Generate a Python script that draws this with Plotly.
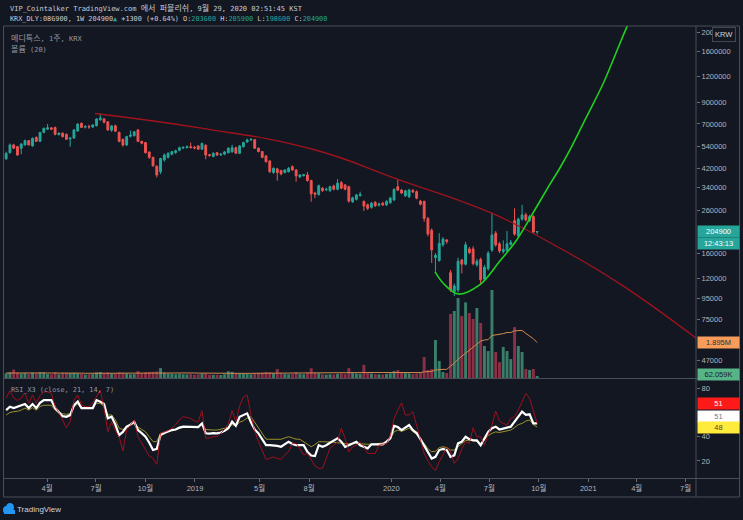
import math
import pandas as pd
import plotly.graph_objects as go

BG = "#131722"
UP = "#26a69a"
DOWN = "#ef5350"
TXT = "#b2b5be"
MONO = "DejaVu Sans Mono, Noto Sans CJK KR, monospace"
SANS = "Liberation Sans, Noto Sans CJK KR, sans-serif"

# ---------------- data (prices in thousand KRW) ----------------
UNIT = 1000
dates = pd.date_range("2018-01-15", periods=142, freq="7D")

ohlc_k = [
    (470, 510, 465, 500), (504, 560, 500, 551), (551, 558, 525, 531), (540, 545, 486, 491), (530, 562, 495, 557),
    (551, 585, 548, 579), (579, 583, 548, 551), (545, 600, 540, 594), (601, 606, 570, 574), (574, 640, 570, 636),
    (636, 672, 630, 666), (660, 700, 655, 670), (670, 675, 652, 660), (672, 680, 615, 622), (620, 636, 614, 630),
    (630, 636, 600, 606), (622, 628, 583, 588), (590, 600, 540, 596), (596, 660, 590, 654), (647, 706, 640, 699),
    (705, 712, 668, 673), (675, 690, 665, 680), (680, 695, 662, 676), (676, 700, 670, 692), (687, 748, 680, 741),
    (735, 790, 725, 750), (741, 750, 705, 715), (718, 722, 648, 654), (652, 690, 640, 685), (686, 695, 640, 645),
    (636, 642, 568, 574), (588, 592, 540, 551), (551, 612, 545, 606), (608, 650, 600, 617), (612, 646, 608, 640),
    (654, 660, 570, 574), (574, 578, 555, 562), (566, 570, 500, 504), (508, 512, 470, 478), (478, 482, 430, 434),
    (432, 436, 380, 391), (406, 476, 395, 472), (464, 500, 455, 491), (478, 508, 472, 500), (495, 514, 490, 510),
    (505, 522, 498, 515), (518, 540, 512, 534), (532, 542, 525, 536), (535, 548, 528, 540), (540, 566, 528, 535),
    (537, 545, 524, 532), (545, 550, 520, 525), (525, 566, 520, 560), (548, 556, 468, 491), (493, 498, 482, 488),
    (483, 506, 478, 501), (504, 508, 486, 491), (492, 502, 486, 496), (496, 514, 490, 509), (504, 536, 500, 531),
    (509, 552, 505, 534), (534, 540, 496, 501), (501, 550, 496, 545), (540, 572, 535, 566), (570, 592, 565, 583),
    (583, 596, 578, 587), (585, 590, 526, 531), (531, 534, 506, 511), (511, 514, 474, 478), (486, 490, 450, 455),
    (459, 462, 400, 406), (402, 426, 396, 422), (419, 424, 366, 402), (411, 415, 390, 395), (402, 418, 398, 414),
    (406, 428, 402, 422), (430, 436, 410, 414), (414, 418, 362, 387), (382, 395, 378, 391), (388, 396, 384, 392),
    (391, 405, 362, 367), (367, 370, 288, 315), (318, 322, 300, 314), (313, 350, 308, 346), (336, 340, 322, 327),
    (330, 338, 325, 332), (327, 346, 322, 342), (345, 350, 328, 332), (332, 373, 328, 356), (358, 365, 332, 336),
    (349, 352, 328, 332), (342, 346, 285, 290), (288, 305, 284, 301), (296, 315, 292, 311), (309, 323, 305, 313),
    (289, 292, 259, 274), (278, 282, 262, 267), (270, 287, 266, 283), (286, 290, 271, 275), (277, 285, 272, 280),
    (283, 288, 274, 278), (278, 293, 274, 289), (285, 305, 281, 300), (294, 336, 290, 331), (342, 373, 325, 329),
    (329, 333, 314, 318), (308, 330, 304, 326), (305, 334, 300, 329), (327, 333, 318, 322), (323, 328, 296, 300),
    (290, 294, 276, 280), (289, 292, 229, 238), (238, 242, 194, 199), (208, 212, 143, 166), (152, 160, 130, 156),
    (147, 201, 145, 179), (176, 192, 172, 188), (186, 188, 178, 183), (128, 132, 103, 105), (103, 113, 98, 110),
    (105, 152, 102, 146), (148, 150, 127, 141), (141, 182, 139, 176), (168, 172, 158, 161), (168, 173, 139, 142),
    (140, 150, 137, 146), (149, 152, 111, 118), (119, 140, 116, 136), (134, 164, 131, 160), (166, 254, 162, 197),
    (201, 206, 172, 176), (178, 182, 160, 164), (163, 185, 159, 167), (165, 206, 161, 178), (177, 186, 174, 181),
    (232, 267, 195, 199), (195, 240, 191, 236), (236, 278, 232, 248), (248, 254, 230, 234), (232, 248, 228, 243),
    (243, 247, 200, 203.6), (203.6, 205.9, 198.6, 204.9),
]
open_k = [r[0] for r in ohlc_k]
high_k = [r[1] for r in ohlc_k]
low_k = [r[2] for r in ohlc_k]
close_k = [r[3] for r in ohlc_k]

volume_k = [
    250, 300, 450, 280, 230, 260, 220, 280, 240, 300,
    290, 220, 200, 300, 200, 260, 270, 260, 280, 250,
    220, 180, 200, 210, 300, 320, 260, 300, 230, 240,
    300, 280, 250, 200, 210, 370, 260, 300, 320, 330,
    350, 530, 280, 240, 230, 200, 220, 200, 190, 210,
    180, 200, 230, 250, 180, 170, 180, 160, 200, 360,
    330, 260, 230, 250, 230, 200, 250, 260, 280, 320,
    300, 250, 480, 260, 220, 200, 210, 300, 220, 200,
    280, 520, 280, 250, 200, 180, 200, 190, 220, 230,
    210, 530, 260, 240, 230, 700, 300, 240, 210, 200,
    190, 220, 250, 370, 430, 280, 260, 250, 220, 240, 300,
    1120, 430, 480, 2030, 910, 320, 270, 3420, 3580, 4270,
    3310, 4040, 3470, 3150, 3740, 2940, 1710, 1440, 4700, 1390,
    850, 1660, 1440, 1010, 2720, 1710, 1390, 480, 430, 480,
    62.059,
]

vol_ma_k = [
    265, 268, 275, 275, 272, 270, 268, 270, 268, 272,
    272, 270, 265, 268, 262, 262, 262, 260, 262, 262,
    258, 252, 248, 248, 250, 254, 255, 258, 256, 255,
    258, 260, 262, 258, 256, 262, 262, 265, 268, 272,
    278, 290, 290, 290, 288, 286, 285, 282, 278, 276,
    270, 262, 258, 255, 250, 245, 240, 236, 235, 240,
    243, 245, 246, 248, 250, 250, 250, 252, 255, 258,
    260, 262, 270, 272, 272, 270, 268, 270, 268, 266,
    268, 280, 282, 282, 280, 276, 272, 268, 266, 262,
    258, 270, 270, 268, 268, 290, 292, 292, 290, 288,
    282, 280, 282, 290, 300, 304, 306, 300, 298, 300, 290,
    330, 340, 350, 430, 460, 460, 460, 620, 800, 1000,
    1160, 1350, 1520, 1660, 1840, 1970, 2030, 2050, 2270, 2290,
    2310, 2370, 2430, 2430, 2520, 2520, 2540, 2380, 2240, 2100,
    1895,
]

rsi_fast = [
    72, 78, 72, 70, 72, 76, 67.6, 74.5, 67.6, 74,
    77.2, 77, 76, 64.8, 60, 53, 47.4, 52.4, 70, 74.5,
    66.2, 65, 64.8, 68, 73.1, 78.6, 63.7, 44.1, 52.4, 45,
    40, 28.2, 45.5, 50, 53.8, 40, 35, 29.6, 24, 22.1,
    17.2, 42.8, 44, 45, 47, 50, 54, 56.5, 56, 55.2,
    53, 52.4, 61.5, 38.7, 39, 40, 40, 42.8, 46, 51,
    61.5, 52.4, 65.5, 73, 74.5, 58, 45, 35.9, 28, 21.3,
    22, 23.4, 22, 21.3, 25, 27.6, 34.5, 34.5, 30, 24.9,
    26.2, 20.7, 16, 13.9, 13.9, 22, 30.4, 33, 35.9, 47,
    38.7, 27.6, 31.7, 33, 35.9, 31.7, 26.2, 26.2, 26.2, 33,
    34, 34.5, 40, 55, 62, 68, 58, 58, 60.7, 49.7,
    38, 26.3, 20, 15.2, 12, 19.3, 25, 31.7, 27.6, 18,
    22, 30, 35.9, 34.5, 47.4, 40, 40, 33, 42, 49.7,
    61.2, 53, 51, 49.7, 55.2, 56.5, 62, 69, 75.9, 71.7,
    60.7, 51,
]
rsi_mid = [
    62, 64.8, 63.7, 65, 66, 67, 63.7, 67, 63.7, 68,
    70.3, 70.3, 70.3, 63.7, 60, 57, 56.5, 57.9, 66, 69,
    63.7, 63.7, 63.7, 63.7, 70.3, 69, 67, 55.2, 56.5, 50,
    41.4, 44, 48.3, 50, 52.4, 45.5, 43, 40, 35, 29,
    30, 41.4, 43, 44.5, 45.5, 46, 47.5, 48.3, 48.3, 48.3,
    48, 48, 51, 42.8, 42.5, 43, 42.8, 43.5, 45, 47,
    52.4, 49, 56.5, 58, 59.3, 52, 46, 42.8, 38, 33,
    33, 33, 32.5, 31.7, 33.5, 35.9, 34, 33, 33, 33,
    27.6, 24.5, 24, 33, 31.7, 33, 35, 37, 38.7, 35.9,
    31.7, 33, 34.5, 35.9, 33, 31.7, 30.4, 33.7, 33.7, 33.7,
    33.7, 36, 38.7, 49, 48, 45.5, 47.5, 49.7, 45.5, 43,
    38, 33, 27, 22, 23.4, 29, 30, 29, 23.4, 24.6,
    34.5, 35.9, 40, 38, 37, 37, 33, 38.7, 44, 47,
    48.3, 46, 47, 47.5, 48.3, 52.4, 56.5, 60.7, 58, 58.5,
    51, 51,
]
rsi_slow = [
    58, 60, 60.7, 61, 62, 63.7, 62, 64, 62, 65,
    66, 66, 66, 62, 60, 59, 58.5, 59, 65, 67,
    63.7, 63.5, 63.5, 64, 67.6, 67.6, 65, 58, 58, 54,
    47, 46, 48, 50, 51, 48, 46, 44.1, 40, 36,
    35.9, 42.8, 43.5, 44.5, 45.5, 46, 47, 47.5, 48, 48.5,
    48.5, 48.5, 51, 46, 45.5, 45.5, 45.5, 46, 47, 48,
    50, 49, 52, 53.2, 55.5, 56.5, 52, 47, 42, 38,
    37.9, 37.9, 37.9, 37.9, 39, 40, 39, 38, 37.9, 36,
    34, 31.7, 33.5, 35.9, 35.9, 35.9, 35.9, 35.5, 35, 34.5,
    34.5, 34, 34.5, 34.5, 34.5, 34, 33.7, 33.7, 34, 34.5,
    35, 35, 38, 44, 45.5, 44.5, 45.5, 47, 44.1, 42,
    38, 34.5, 30, 27.6, 28, 31, 31.7, 31, 29, 29,
    31.7, 34, 37, 37, 37, 36, 34.5, 38, 41, 42.8,
    44, 43.5, 44, 45, 45.5, 47.5, 50, 51, 53, 53.8,
    50, 48,
]

# drawings (date, price in thousand KRW)
arc_dates = ["2018-06-29", "2019-01-10", "2019-08-06", "2020-01-17", "2020-07-05 12:00",
             "2020-11-09 17:00", "2021-03-01", "2021-07-20"]
arc_prices_k = [789, 669, 526, 369, 252.5, 169.3, 112.6, 60.7]

cup_dates = ["2020-03-22", "2020-04-06 12:00", "2020-05-04", "2020-06-13", "2020-07-20",
             "2020-08-21", "2020-09-20", "2020-10-21", "2020-11-09", "2020-11-28",
             "2020-12-29", "2021-01-29", "2021-03-01", "2021-03-14", "2021-03-30"]
cup_prices_k = [129.6, 113.5, 100.3, 111.3, 145.3, 186.1, 252.5, 348.8, 422.1, 520.3,
                761.1, 1115, 1761, 2129, 2636]

price_ticks = [2000000, 1600000, 1200000, 900000, 700000, 540000, 420000, 340000,
               260000, 160000, 120000, 95000, 75000, 47000]
rsi_ticks = [20, 40, 80]
time_tickvals = ["2018-04-01", "2018-07-01", "2018-10-01", "2019-01-01", "2019-05-01", "2019-08-01",
                 "2020-01-01", "2020-04-01", "2020-07-01", "2020-10-01", "2021-01-01", "2021-04-01",
                 "2021-07-01"]
time_ticktext = ["4월", "7월", "10월", "2019", "5월", "8월", "2020", "4월", "7월", "10월", "2021", "4월", "7월"]

# ---------------- layout helpers (pixel -> paper) ----------------
W, H = 743, 520
L, R, T, B = 4, 696, 26, 478


def px(x):
    return (x - L) / (R - L)


def py(y):
    return (B - y) / (B - T)


main_dom = [py(378), 1.0]
rsi_dom = [0.0, py(379)]

opens = [v * UNIT for v in open_k]
highs = [v * UNIT for v in high_k]
lows = [v * UNIT for v in low_k]
closes = [v * UNIT for v in close_k]
volumes = [v * UNIT for v in volume_k]
vol_ma = [v * UNIT for v in vol_ma_k]

vol_colors = ["#3a7d69" if c >= o else "#8a2f45" for o, c in zip(opens, closes)]

fig = go.Figure()

# volume (base axis y)
fig.add_trace(go.Bar(x=dates, y=volumes, marker=dict(color=vol_colors, line=dict(width=0)),
                     width=7 * 86400000 * 0.78, yaxis="y", xaxis="x", hoverinfo="skip"))
fig.add_trace(go.Scatter(x=dates, y=vol_ma, mode="lines", line=dict(color="#d08a50", width=1),
                         yaxis="y", xaxis="x", hoverinfo="skip"))

# price (overlay axis y2)
fig.add_trace(go.Candlestick(
    x=dates, open=opens, high=highs, low=lows, close=closes,
    increasing=dict(line=dict(color=UP, width=1), fillcolor=UP),
    decreasing=dict(line=dict(color=DOWN, width=1), fillcolor=DOWN),
    whiskerwidth=0, yaxis="y2", xaxis="x", hoverinfo="skip"))

fig.add_trace(go.Scatter(x=arc_dates, y=[v * UNIT for v in arc_prices_k], mode="lines",
                         line=dict(color="#a0131d", width=1.3, shape="spline", smoothing=1.3),
                         yaxis="y2", xaxis="x", hoverinfo="skip"))
fig.add_trace(go.Scatter(x=cup_dates, y=[v * UNIT for v in cup_prices_k], mode="lines",
                         line=dict(color="#1fd01f", width=1.6, shape="spline"), yaxis="y2", xaxis="x",
                         hoverinfo="skip"))

# RSI pane
fig.add_trace(go.Scatter(x=dates, y=rsi_slow, mode="lines", line=dict(color="#9c9428", width=1),
                         yaxis="y3", xaxis="x", hoverinfo="skip"))
fig.add_trace(go.Scatter(x=dates, y=rsi_mid, mode="lines", line=dict(color="#ffffff", width=2.2),
                         yaxis="y3", xaxis="x", hoverinfo="skip"))
fig.add_trace(go.Scatter(x=dates, y=rsi_fast, mode="lines", line=dict(color="#c0101c", width=1),
                         opacity=0.8, yaxis="y3", xaxis="x", hoverinfo="skip"))

lg = math.log10
tickfont = dict(family=SANS, size=7.5, color=TXT)
P0 = 2887000  # price at pixel row 0 of the log scale
PX_PER_DECADE = 201.5

fig.update_layout(
    width=W, height=H,
    margin=dict(l=L, r=W - R, t=T, b=H - B, pad=0),
    paper_bgcolor=BG, plot_bgcolor=BG,
    showlegend=False, dragmode=False,
    xaxis=dict(type="date", range=["2018-01-11", "2021-07-20 07:00"], anchor="y3", domain=[0, 1],
               showgrid=False, zeroline=False, showline=False,
               tickmode="array", tickvals=time_tickvals, ticktext=time_ticktext,
               ticks="outside", ticklen=3, tickcolor="#6a6d78", tickfont=tickfont,
               rangeslider=dict(visible=False), fixedrange=True),
    yaxis=dict(domain=main_dom, range=[0, 18.8e6], visible=False, fixedrange=True),
    yaxis2=dict(type="log", overlaying="y", side="right", anchor="x",
                range=[lg(P0) - 378 / PX_PER_DECADE, lg(P0) - 26 / PX_PER_DECADE],
                showgrid=False, zeroline=False, showline=False,
                tickmode="array", tickvals=price_ticks, ticktext=[str(v) for v in price_ticks],
                ticks="outside", ticklen=3, tickcolor="#6a6d78", tickfont=tickfont, fixedrange=True),
    yaxis3=dict(domain=rsi_dom, range=[5.9, 87.7], side="right", anchor="x",
                showgrid=False, zeroline=False, showline=False,
                tickmode="array", tickvals=rsi_ticks, ticktext=[str(v) for v in rsi_ticks],
                ticks="outside", ticklen=3, tickcolor="#6a6d78", tickfont=tickfont, fixedrange=True),
)

# frame lines
FRAME = "#4a4e59"
shapes = []
for (x0, y0, x1, y1) in [
    (3.5, 26, 739.5, 26), (3.5, 26, 3.5, 497), (739.5, 26, 739.5, 497), (696, 26, 696, 497),
    (3.5, 378.5, 739.5, 378.5), (3.5, 478.5, 739.5, 478.5), (3.5, 497, 739.5, 497)]:
    shapes.append(dict(type="line", xref="paper", yref="paper", x0=px(x0), y0=py(y0), x1=px(x1), y1=py(y1),
                       line=dict(color=FRAME, width=1), layer="above"))
# TradingView logo icon
shapes.append(dict(type="circle", xref="paper", yref="paper", x0=px(3), y0=py(514), x1=px(10), y1=py(506),
                   fillcolor="#2196f3", line=dict(width=0)))
shapes.append(dict(type="circle", xref="paper", yref="paper", x0=px(6), y0=py(512), x1=px(14), y1=py(503),
                   fillcolor="#2196f3", line=dict(width=0)))
shapes.append(dict(type="rect", xref="paper", yref="paper", x0=px(4), y0=py(514), x1=px(15), y1=py(510),
                   fillcolor="#2196f3", line=dict(width=0)))
fig.update_layout(shapes=shapes)

ann = []


def widen_hangul(s, size=8.0):
    out = []
    for ch in s:
        if "\uac00" <= ch <= "\ud7a3":
            out.append(f"<span style='font-size:{size}px'>{ch}</span>")
        else:
            out.append(ch)
    return "".join(out)


def text(x, y, s, size=7.0, color=TXT, family=MONO):
    ann.append(dict(xref="paper", yref="paper", x=px(x), y=py(y), text=s, showarrow=False,
                    xanchor="left", yanchor="middle", font=dict(family=family, size=size, color=color)))


text(8, 7.5, widen_hangul("VIP_Cointalker TradingView.com 에서 퍼블리쉬, 9월 29, 2020 02:51:45 KST"),
     color="#c8cad2")
last_open, last_high, last_low, last_close = opens[-1], highs[-1], lows[-1], closes[-1]
chg = last_close - closes[-2]


def teal(s):
    return f"<span style='color:{UP}'>{s}</span>"


line2 = (f"KRX_DLY:086900, 1W {int(round(last_close))}{teal('▲')} +{int(round(chg))} "
         f"(+{chg / closes[-2] * 100:.2f}%) "
         f"O:{teal(int(round(last_open)))} H:{teal(int(round(last_high)))} "
         f"L:{teal(int(round(last_low)))} C:{teal(int(round(last_close)))}")
text(8, 18.5, line2, size=6.85, color="#c8cad2")
text(9, 38.3, widen_hangul("메디톡스, 1주, KRX"), color="#9598a1")
text(9, 49.3, widen_hangul("볼륨 (20)"), color="#9598a1")
text(9, 390, "RSI_X3 (close, 21, 14, 7)", size=6.85, color="#9598a1")
text(15, 509, "TradingView", size=8, color="#d1d4dc", family=SANS)

ann.append(dict(xref="paper", yref="paper", x=px(723.5), y=py(34.5), text="KRW", showarrow=False,
                xanchor="center", yanchor="middle", bgcolor=BG, bordercolor="#434651", borderwidth=1,
                borderpad=2, font=dict(family=SANS, size=7.5, color="#d1d4dc")))


def label(yref, yval, s, bg, fg, yshift=0):
    ann.append(dict(xref="paper", yref=yref, x=px(697), y=yval, text=s, showarrow=False,
                    xanchor="left", yanchor="middle", bgcolor=bg, borderpad=1, width=39, height=9,
                    align="center", yshift=yshift, font=dict(family=SANS, size=7.5, color=fg)))


label("y2", lg(last_close), str(int(round(last_close))), UP, "#ffffff")
label("y2", lg(last_close), "12:43:13", UP, "#ffffff", yshift=-11.5)
label("y", vol_ma[-1], f"{vol_ma[-1] / 1e6:.3f}M", "#f79c5b", "#2a2e39")
label("y", volumes[-1], f"{volumes[-1] / 1e3:.3f}K", "#56b486", "#1e222d", yshift=2)
label("y3", rsi_fast[-1], f"{rsi_fast[-1]:.0f}", "#ff1a1a", "#ffffff", yshift=19.5)
label("y3", rsi_mid[-1], f"{rsi_mid[-1]:.0f}", "#ffffff", "#787b86", yshift=6.5)
label("y3", rsi_slow[-1], f"{rsi_slow[-1]:.0f}", "#ffeb3b", "#4a4a30")

fig.update_layout(annotations=ann)
fig.write_html("out.html")
